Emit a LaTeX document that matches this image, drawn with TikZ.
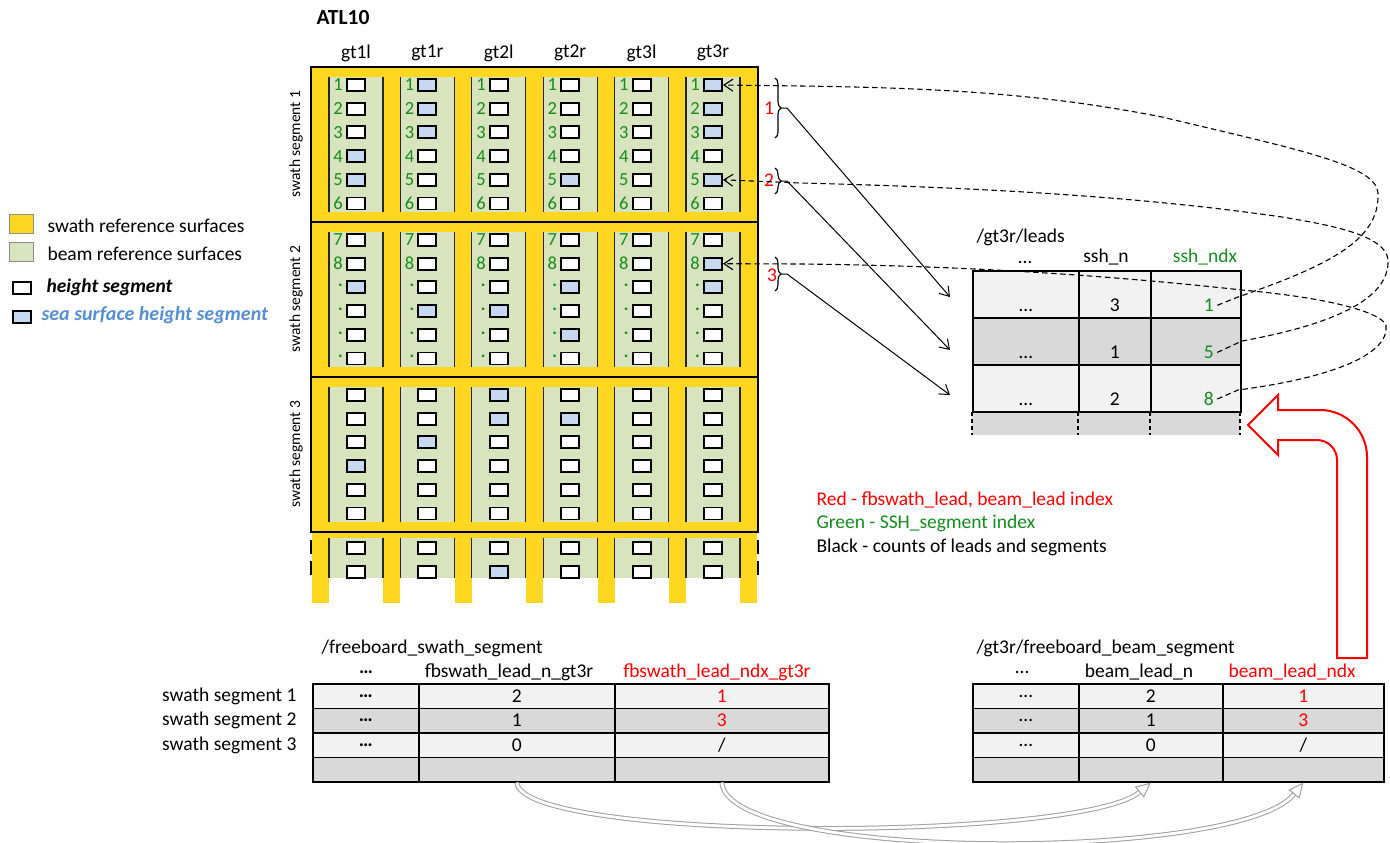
\documentclass[tikz,border=0pt]{standalone}
\usepackage{fontspec}
\setmainfont{Carlito}
\usetikzlibrary{positioning,arrows.meta,decorations.pathreplacing}

\definecolor{swathyel}{RGB}{255,214,32}
\definecolor{beamgrn}{RGB}{215,228,189}
\definecolor{sshblue}{RGB}{198,217,241}
\definecolor{idxgrn}{RGB}{20,140,30}
\definecolor{idxred}{RGB}{255,0,0}
\definecolor{legblue}{RGB}{85,142,213}
\definecolor{rowlite}{RGB}{242,242,242}
\definecolor{rowdark}{RGB}{217,217,217}

\tikzset{
  hseg/.style={draw, line width=1.9pt, fill=white, minimum width=18pt, minimum height=12pt, inner sep=0pt},
  sshseg/.style={hseg, fill=sshblue},
  segnum/.style={text=idxgrn, inner sep=0pt, font=\fontsize{18.5}{19}\selectfont},
  beamedge/.style={line width=1.3pt, black!85},
  cell/.style={draw, line width=1.6pt, inner sep=0pt, anchor=north west},
  lnk/.style={-{Straight Barb[length=9pt,width=12pt]}, line width=1pt},
  backlnk/.style={lnk, line width=1.1pt, dash pattern=on 5.5pt off 3.5pt},
  graylnk/.style={draw=gray!75, line width=1pt, double=white, double distance=2.8pt,
    -{Triangle[open,length=15pt,width=14pt]}},
  brc/.style={decorate, decoration={brace, amplitude=6pt}, line width=1.1pt},
  legsq/.style={draw=black!45, line width=0.8pt, minimum width=24pt, minimum height=19pt, inner sep=0pt}
}

% sea surface height segments: segment/beam/row
\foreach \s/\c/\r in {1/1/4,1/1/5,1/2/1,1/2/2,1/2/3,1/4/5,1/6/1,1/6/2,1/6/3,1/6/5,
  2/1/3,2/2/4,2/3/4,2/4/3,2/4/5,2/6/2,2/6/3,
  3/1/4,3/2/3,3/3/1,3/3/2,3/4/2,4/3/2}{\expandafter\gdef\csname ssh-\s-\c-\r\endcsname{}}

\begin{document}
\begin{tikzpicture}[x=1pt, y=-1pt, font=\fontsize{19.5}{23}\selectfont]
\useasboundingbox (0,0) rectangle (1390,843);

\node[anchor=west, font=\fontsize{21.5}{24}\selectfont\bfseries] (atl) at (313,18) {ATL10};
\foreach \c/\g in {1/gt1l,2/gt1r,3/gt2l,4/gt2r,5/gt3l,6/gt3r}
  \node (h\c) at (356+71.4*\c-71.4,53) {\g};

% rest of the granule
\fill[swathyel] (312,532) rectangle (757,578);
\foreach \i in {0,...,6} \fill[swathyel] (312+71.4*\i,578) rectangle +(17,25);
\foreach \c in {1,...,6}{
  \pgfmathsetmacro\cx{329+71.4*(\c-1)}
  \fill[beamgrn] (\cx,538) rectangle +(54,40);
  \draw[beamedge] (\cx,538) -- +(0,40) (\cx+54,538) -- +(0,40);
  \foreach \r in {1,2}{
    \ifcsname ssh-4-\c-\r\endcsname\def\bx{sshseg}\else\def\bx{hseg}\fi
    \node[\bx] (b4-\c-\r) at (\cx+27,524+24*\r) {};
  }
}
\draw[line width=2.2pt, dash pattern=on 14pt off 7pt] (311,540) -- (311,580) (758,540) -- (758,580);

% swath segments
\foreach \s in {1,2,3}{
  \pgfmathsetmacro\segy{67+155*(\s-1)}
  \draw[fill=swathyel, line width=2.2pt] (311,\segy) rectangle +(447,155);
  \node[rotate=90, font=\fontsize{15.5}{18}\selectfont] (sl\s) at (296,\segy+77) {swath segment \s};
  \foreach \c in {1,...,6}{
    \pgfmathsetmacro\cx{329+71.4*(\c-1)}
    \fill[beamgrn] (\cx,\segy+10) rectangle +(54,135);
    \draw[beamedge] (\cx,\segy+10) -- +(0,135) (\cx+54,\segy+10) -- +(0,135);
    \foreach \r in {1,...,6}{
      \ifcsname ssh-\s-\c-\r\endcsname\def\bx{sshseg}\else\def\bx{hseg}\fi
      \node[\bx] (b\s-\c-\r) at (\cx+27,\segy+18+23.7*\r-23.7) {};
      \ifnum\s=1 \def\lb{\r}\else\ifnum\r<3 \pgfmathtruncatemacro\lb{6+\r}\else\def\lb{\textperiodcentered}\fi\fi
      \ifnum\s<3 \node[segnum, left=3pt of b\s-\c-\r] (n\s-\c-\r) {\lb};\fi
    }
  }
}

% legend
\node[legsq, fill=swathyel] (ky) at (21,224) {};
\node[anchor=west] (kyt) at (44,226) {swath reference surfaces};
\node[legsq, fill=beamgrn] (kg) at (21,252) {};
\node[anchor=west] (kgt) at (44,254) {beam reference surfaces};
\node[hseg, line width=1.5pt] (kh) at (22,288) {};
\node[anchor=west, font=\fontsize{19.5}{23}\selectfont\bfseries\itshape] (kht) at (43,287) {height segment};
\node[sshseg, line width=1.5pt] (ks) at (22,317) {};
\node[anchor=west, text=legblue, font=\fontsize{20}{23}\selectfont\bfseries\itshape] (kst) at (38,315) {sea surface height segment};

% leads of gt3r
\draw[brc] (775,78) -- (775,138);
\draw[brc] (775,168) -- (775,194);
\draw[brc] (775,257) -- (775,291);
\coordinate (t1) at (781,108);
\coordinate (t2) at (781,181);
\coordinate (t3) at (781,274);
\node[text=idxred] (r1) at (769,108) {1};
\node[text=idxred] (r2) at (769,180) {2};
\node[text=idxred] (r3) at (772,275) {3};

\node[anchor=west] (lt) at (973,237) {/gt3r/leads};
\node[anchor=base, inner sep=1pt] (lh1) at (1025,263) {\dots};
\node[anchor=base, inner sep=1pt] (lh2) at (1106,262) {ssh\_n};
\node[anchor=base, inner sep=1pt, text=idxgrn] (lh3) at (1205,262) {ssh\_ndx};
\fill[rowdark] (972,411) rectangle (1240,435);
\draw[line width=1.3pt, dash pattern=on 4pt off 3pt] (972,412) -- (972,435) (1078,412) -- (1078,435)
  (1150,412) -- (1150,435) (1240,412) -- (1240,435);
\foreach \r/\f/\n/\i in {1/rowlite/3/1,2/rowdark/1/5,3/rowlite/2/8}{
  \pgfmathsetmacro\ry{270+47*(\r-1)}
  \node[cell, fill=\f, minimum width=106pt, minimum height=47pt] (la\r) at (972,\ry) {};
  \node[cell, fill=\f, minimum width=72pt, minimum height=47pt] (lb\r) at (1078,\ry) {};
  \node[cell, fill=\f, minimum width=90pt, minimum height=47pt] (lc\r) at (1150,\ry) {};
  \node[anchor=base] (lav\r) at ([yshift=7pt]la\r.south) {\dots};
  \node[anchor=base] (lbv\r) at ([yshift=7pt]lb\r.south) {\n};
  \node[anchor=base, text=idxgrn] (lcv\r) at ([xshift=13pt,yshift=7pt]lc\r.south) {\i};
}
\coordinate (a1) at (950,297);
\coordinate (a2) at (950,350);
\coordinate (a3) at (950,395);
\draw[lnk] (t1) -- ++(6,0) -- (a1);
\draw[lnk] (t2) -- ++(6,0) -- (a2);
\draw[lnk] (t3) -- ++(6,0) -- (a3);

% back to the ssh segments
\draw[backlnk] (lcv1.east) -- (1238,297) .. controls (1330,265) and (1380,240) .. (1378,193)
  .. controls (1376,165) and (1300,150) .. (1162,117) .. controls (1050,95) and (950,88) .. (800,86) -- (b1-6-1.east);
\draw[backlnk] (lcv2.east) -- (1242,341) .. controls (1330,325) and (1390,300) .. (1388,260)
  .. controls (1386,235) and (1330,225) .. (1282,217) .. controls (1150,198) and (1000,188) .. (800,183) -- (b1-6-5.east);
\draw[backlnk] (lcv3.east) -- (1238,390) .. controls (1330,378) and (1390,355) .. (1386,325)
  .. controls (1380,312) and (1330,298) .. (1242,290) .. controls (1150,280) and (1000,266) .. (800,264) -- (b2-6-2.east);

\node[anchor=west, text=idxred] (kr) at (813,500) {Red - fbswath\_lead, beam\_lead index};
\node[anchor=west, text=idxgrn] (kgr) at (813,523) {Green - SSH\_segment index};
\node[anchor=west] (kb) at (813,547) {Black - counts of leads and segments};

% freeboard swath segment
\node[anchor=west] (swt) at (318,648) {/freeboard\_swath\_segment};
\node (swh1) at (366,672) {\textbf{\dots}};
\node (swh2) at (509,672) {fbswath\_lead\_n\_gt3r};
\node[text=idxred] (swh3) at (717,672) {fbswath\_lead\_ndx\_gt3r};
\foreach \r/\f/\n/\i/\ic in {1/rowlite/2/1/idxred,2/rowdark/1/3/idxred,3/rowlite/0/\slash/black,4/rowdark///black}{
  \pgfmathsetmacro\ry{683+24.5*(\r-1)}
  \node[cell, fill=\f, minimum width=106pt, minimum height=24.5pt] (sa\r) at (312,\ry) {};
  \node[cell, fill=\f, minimum width=196pt, minimum height=24.5pt] (sb\r) at (418,\ry) {};
  \node[cell, fill=\f, minimum width=214pt, minimum height=24.5pt] (sc\r) at (614,\ry) {};
  \node (sbv\r) at (sb\r.center) {\n};
  \node[text=\ic] (scv\r) at (sc\r.center) {\i};
}
\foreach \r in {1,2,3}{
  \node (sav\r) at (sa\r.center) {\textbf{\dots}};
  \node[left=12pt of sa\r] (srl\r) {swath segment \r};
}

% freeboard beam segment
\node[anchor=west] (bmt) at (973,648) {/gt3r/freeboard\_beam\_segment};
\node (bmh1) at (1022,672) {\dots};
\node (bmh2) at (1139,672) {beam\_lead\_n};
\node[text=idxred] (bmh3) at (1292,672) {beam\_lead\_ndx};
\foreach \r/\f/\n/\i/\ic in {1/rowlite/2/1/idxred,2/rowdark/1/3/idxred,3/rowlite/0/\slash/black,4/rowdark///black}{
  \pgfmathsetmacro\ry{683+24.5*(\r-1)}
  \node[cell, fill=\f, minimum width=106pt, minimum height=24.5pt] (ba\r) at (972,\ry) {};
  \node[cell, fill=\f, minimum width=144pt, minimum height=24.5pt] (bb\r) at (1078,\ry) {};
  \node[cell, fill=\f, minimum width=161pt, minimum height=24.5pt] (bc\r) at (1222,\ry) {};
  \node (bbv\r) at (bb\r.center) {\n};
  \node[text=\ic] (bcv\r) at (bc\r.center) {\i};
}
\foreach \r in {1,2,3} \node (bav\r) at (ba\r.center) {\dots};

\draw[graylnk] (sb4.south) .. controls (522,842) and (1080,842) .. (bb4.south);
\draw[graylnk] (sc4.south) .. controls (727,862) and (1240,862) .. (bc4.south);

% beam lead index back into leads
\draw[idxred, line width=2pt, fill=white, line join=miter] (1248,425) -- (1278,395) -- (1278,410) -- (1320,410)
  .. controls (1346,410) and (1367,431) .. (1367,457) -- (1367,658) -- (1337,658) -- (1337,460)
  .. controls (1337,449) and (1328,440) .. (1317,440) -- (1278,440) -- (1278,455) -- cycle;
\end{tikzpicture}
\end{document}
